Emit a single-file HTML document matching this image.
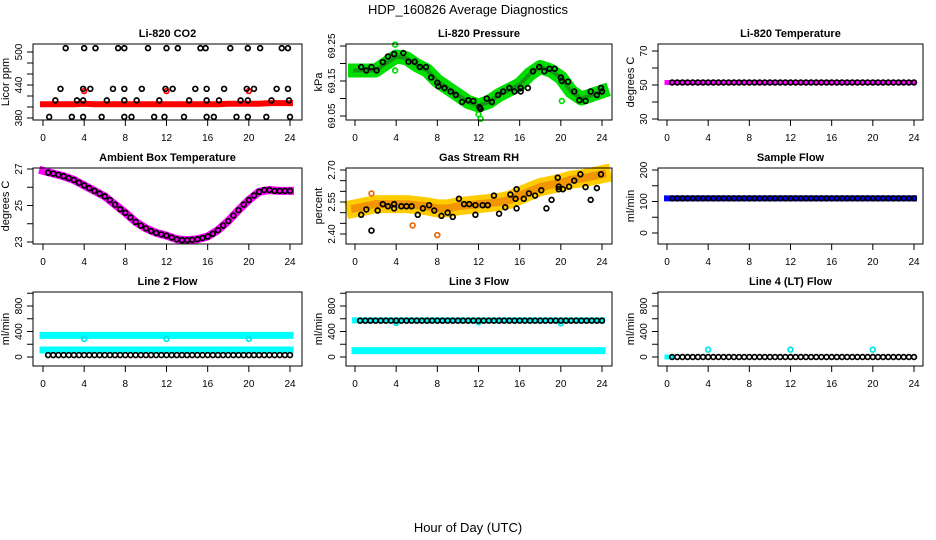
<!DOCTYPE html>
<html><head><meta charset="utf-8"><style>
html,body{margin:0;padding:0;background:#fff;}
svg{display:block;font-family:"Liberation Sans",sans-serif;}
</style></head><body>
<svg id="chart" width="936" height="540" viewBox="0 0 936 540" xmlns="http://www.w3.org/2000/svg">
<text x="468" y="14" text-anchor="middle" font-size="13">HDP_160826  Average Diagnostics</text>
<text x="468" y="532" text-anchor="middle" font-size="13">Hour of Day (UTC)</text>
</svg>
<script>
const HOURS = [0,1,2,3,4,5,6,7,8,9,10,11,12,13,14,15,16,17,18,19,20,21,22,23,24];
const HALF = [0.5,1,1.5,2,2.5,3,3.5,4,4.5,5,5.5,6,6.5,7,7.5,8,8.5,9,9.5,10,10.5,11,11.5,12,12.5,13,13.5,14,14.5,15,15.5,16,16.5,17,17.5,18,18.5,19,19.5,20,20.5,21,21.5,22,22.5,23,23.5,24];
const X_TICKS = [0,4,8,12,16,20,24];

// CO2
const co2Band = [405,405,405,405,406,405,405,405,405,405,405,405,405,405,405,405,405,405,406,406,406,406,407,407,407];
const co2Hours = [2.2,4.0,5.1,7.3,7.9,10.2,12.0,13.1,15.3,15.8,18.2,19.9,21.1,23.2,23.8, 1.7,3.9,4.6,6.8,7.9,9.6,11.9,12.6,14.8,15.9,17.6,19.8,20.5,22.7,23.8, 1.2,3.3,3.9,6.2,7.9,9.1,11.3,14.2,15.9,17.1,19.2,19.9,22.2,23.9, 0.6,2.8,3.9,5.7,7.9,8.6,10.8,11.8,13.7,15.9,16.6,18.8,19.9,21.7,24.0];
const co2Vals = [507,507,507,507,507,507,507,507,507,507,507,507,507,507,507, 433,433,433,433,433,433,433,433,433,433,433,433,433,433,433, 412,412,412,412,412,412,412,412,412,412,412,412,412,412, 382,382,382,382,382,382,382,382,382,382,382,382,382,382,382];
const co2RedHours = [4,12,20];
const co2RedVals = [429,429,429];

// Pressure
const presBand = [69.18,69.18,69.18,69.20,69.22,69.215,69.195,69.18,69.15,69.13,69.11,69.09,69.08,69.09,69.11,69.125,69.14,69.17,69.19,69.18,69.16,69.12,69.10,69.11,69.12];
const presHours = [0.6,1.1,1.6,2.1,2.7,3.2,3.8,4.7,5.2,5.8,6.3,6.9,7.4,8.0,8.1,8.7,9.3,9.8,10.4,11.0,11.5,12.1,12.2,12.8,13.3,13.9,14.4,15.0,15.5,16.1,16.1,16.8,17.3,17.9,18.4,18.9,19.4,20.0,20.1,20.7,21.3,21.8,22.4,22.9,23.5,24.0,23.9];
const presVals = [69.19,69.18,69.19,69.18,69.204,69.22,69.227,69.23,69.205,69.205,69.19,69.19,69.16,69.145,69.135,69.13,69.12,69.11,69.09,69.095,69.093,69.075,69.07,69.10,69.09,69.11,69.12,69.13,69.12,69.12,69.13,69.13,69.178,69.19,69.178,69.185,69.185,69.16,69.15,69.148,69.12,69.095,69.093,69.12,69.11,69.12,69.13];
const presOutHours = [3.9,3.9,20.1,12.2,12.0];
const presOutVals = [69.254,69.18,69.093,69.042,69.055];

// Li-820 Temperature
const tempBand = [51.5,51.5,51.5,51.5,51.5,51.5,51.5,51.5,51.5,51.5,51.5,51.5,51.5,51.5,51.5,51.5,51.5,51.5,51.5,51.5,51.5,51.5,51.5,51.5,51.5];
const tempVals = [51.5,51.5,51.5,51.5,51.5,51.5,51.5,51.5,51.5,51.5,51.5,51.5,51.5,51.5,51.5,51.5,51.5,51.5,51.5,51.5,51.5,51.5,51.5,51.5,51.5,51.5,51.5,51.5,51.5,51.5,51.5,51.5,51.5,51.5,51.5,51.5,51.5,51.5,51.5,51.5,51.5,51.5,51.5,51.5,51.5,51.5,51.5,51.5];

// Ambient box temperature
const ambBand = [26.9,26.75,26.6,26.4,26.1,25.8,25.5,25.05,24.6,24.1,23.75,23.5,23.35,23.15,23.1,23.15,23.3,23.65,24.15,24.75,25.3,25.75,25.85,25.8,25.8];
const ambVals = [26.8,26.75,26.68,26.6,26.5,26.4,26.25,26.1,25.95,25.8,25.65,25.5,25.3,25.05,24.8,24.6,24.35,24.1,23.9,23.75,23.6,23.5,23.42,23.35,23.25,23.15,23.1,23.1,23.12,23.15,23.22,23.3,23.45,23.65,23.9,24.15,24.45,24.75,25.05,25.3,25.55,25.75,25.85,25.85,25.8,25.8,25.8,25.8];

// Gas stream RH
const rhBand = [2.52,2.53,2.54,2.54,2.54,2.54,2.535,2.53,2.52,2.52,2.53,2.535,2.54,2.545,2.55,2.56,2.58,2.60,2.62,2.63,2.64,2.655,2.66,2.67,2.68];
const rhHours = [0.6,1.1,1.6,2.2,2.7,3.2,3.8,3.8,4.5,5.0,5.5,6.1,6.6,7.2,7.7,8.4,9.0,9.5,10.1,10.6,11.1,11.7,11.7,12.4,12.9,13.5,14.0,14.6,15.1,15.6,15.7,15.7,16.4,16.9,17.5,18.1,18.6,19.1,19.7,19.8,19.8,20.2,20.8,21.3,21.9,22.4,22.9,23.5,23.9];
const rhVals = [2.49,2.515,2.416,2.51,2.54,2.53,2.54,2.52,2.53,2.53,2.53,2.49,2.52,2.535,2.51,2.485,2.50,2.48,2.565,2.54,2.54,2.535,2.49,2.535,2.535,2.58,2.495,2.525,2.585,2.565,2.61,2.52,2.565,2.59,2.58,2.605,2.52,2.56,2.664,2.622,2.61,2.61,2.622,2.65,2.68,2.62,2.56,2.615,2.68];
const rhOutHours = [8.0,1.6,5.6];
const rhOutVals = [2.395,2.59,2.44];

// Sample flow
const sfBand = [110,110,110,110,110,110,110,110,110,110,110,110,110,110,110,110,110,110,110,110,110,110,110,110,110];
const sfVals = [110,110,110,110,110,110,110,110,110,110,110,110,110,110,110,110,110,110,110,110,110,110,110,110,110,110,110,110,110,110,110,110,110,110,110,110,110,110,110,110,110,110,110,110,110,110,110,110];

// Line 2 flow
const l2BandHigh = [340,340,340,340,340,340,340,340,340,340,340,340,340,340,340,340,340,340,340,340,340,340,340,340,340];
const l2BandLow = [110,110,110,110,110,110,110,110,110,110,110,110,110,110,110,110,110,110,110,110,110,110,110,110,110];
const l2Vals = [30,30,30,30,30,30,30,30,30,30,30,30,30,30,30,30,30,30,30,30,30,30,30,30,30,30,30,30,30,30,30,30,30,30,30,30,30,30,30,30,30,30,30,30,30,30,30,30];
const l2OutHours = [4,12,20];
const l2OutVals = [285,285,285];

// Line 3 flow
const l3BandHigh = [575,575,575,575,575,575,575,575,575,575,575,575,575,575,575,575,575,575,575,575,575,575,575,575,575];
const l3BandLow = [100,100,100,100,100,100,100,100,100,100,100,100,100,100,100,100,100,100,100,100,100,100,100,100,100];
const l3Vals = [570,570,570,570,570,570,570,570,570,570,570,570,570,570,570,570,570,570,570,570,570,570,570,570,570,570,570,570,570,570,570,570,570,570,570,570,570,570,570,570,570,570,570,570,570,570,570,570];
const l3OutHours = [4,12,20];
const l3OutVals = [535,545,530];

// Line 4 flow
const l4Vals = [0,0,0,0,0,0,0,0,0,0,0,0,0,0,0,0,0,0,0,0,0,0,0,0,0,0,0,0,0,0,0,0,0,0,0,0,0,0,0,0,0,0,0,0,0,0,0,0];
const l4BandHours = [0,0.5];
const l4BandVals = [0,0];
const l4OutHours = [4,12,20];
const l4OutVals = [115,115,115];

const NS = 'http://www.w3.org/2000/svg';
const svg = document.getElementById('chart');
function mk(tag, attrs, parent) {
  const e = document.createElementNS(NS, tag);
  for (const k in attrs) e.setAttribute(k, attrs[k]);
  (parent || svg).appendChild(e);
  return e;
}
const COLS = [{l:33,r:302,x0:43,x24:290},{l:346,r:612,x0:355,x24:602},{l:658,r:923,x0:667,x24:914}];
const ROWS = [{t:44,b:120},{t:168,b:244},{t:292,b:366}];

function panel(ci, ri, name, title, ylab, yref, yTicks, yLabels) {
  const c = COLS[ci], r = ROWS[ri];
  const g = mk('g', {});
  
  
  const xs = h => c.x0 + (c.x24 - c.x0) * h / 24;
  const ys = v => yref[1] + (v - yref[0]) * (yref[3] - yref[1]) / (yref[2] - yref[0]);
  const t = mk('text', {x:(c.l + c.r) / 2, y:r.t - 7, 'text-anchor':'middle', 'font-size':11, 'font-weight':'bold'}, g);
  t.textContent = title;
  
  
  const plot = mk('g', {}, g);
  
  
  const box = mk('rect', {x:c.l, y:r.t, width:c.r - c.l, height:r.b - r.t, fill:'none', stroke:'#000', 'stroke-width':1}, g);
  
  
  const xa = mk('g', {}, g);
  
  
  mk('line', {x1:xs(0), x2:xs(24), y1:r.b, y2:r.b, stroke:'#000'}, xa);
  X_TICKS.forEach(h => {
    mk('line', {x1:xs(h), x2:xs(h), y1:r.b, y2:r.b + 6, stroke:'#000'}, xa);
    const tl = mk('text', {x:xs(h), y:r.b + 21, 'text-anchor':'middle', 'font-size':10}, xa);
    tl.textContent = h;
    
    
  });
  const ya = mk('g', {}, g);
  
  
  mk('line', {x1:c.l, x2:c.l, y1:ys(yTicks[0]), y2:ys(yTicks[yTicks.length - 1]), stroke:'#000'}, ya);
  yTicks.forEach(v => mk('line', {x1:c.l - 6, x2:c.l, y1:ys(v), y2:ys(v), stroke:'#000'}, ya));
  yLabels.forEach(lab => {
    const yy = ys(parseFloat(lab));
    const tl = mk('text', {x:c.l - 11, y:yy, 'text-anchor':'middle', 'font-size':10, transform:`rotate(-90 ${c.l - 11} ${yy})`}, ya);
    tl.textContent = lab;
    
    
  });
  const ym = (r.t + r.b) / 2;
  const yt = mk('text', {x:c.l - 24, y:ym, 'text-anchor':'middle', 'font-size':11, transform:`rotate(-90 ${c.l - 24} ${ym})`}, g);
  yt.textContent = ylab;
  
  
  return {xs, ys, plot};
}
function band(p, hours, vals, color, w, name, op) {
  const pts = hours.map((h, i) => p.xs(h) + ',' + p.ys(vals[i])).join(' ');
  const e = mk('polyline', {points:pts, fill:'none', stroke:color, 'stroke-width':w, 'stroke-linejoin':'round', 'stroke-linecap':'square', 'stroke-opacity':op || 1}, p.plot);
  
  
}
function pts(p, hours, vals, color, name, rad) {
  hours.forEach((h, i) => {
    const e = mk('circle', {cx:p.xs(h), cy:p.ys(vals[i]), r:rad || 2.4, fill:'none', stroke:color, 'stroke-width':1.7}, p.plot);
    
    
  });
}
const FLOW_T = [0,200,400,600,800,1000], FLOW_L = ['0','400','800'];

let p = panel(0, 0, 'co2', 'Li-820 CO2', 'Licor ppm', [380,118,500,52], [380,400,420,440,460,480,500], ['380','440','500']);
band(p, HOURS, co2Band, '#ff0000', 6, 'co2-band');
pts(p, co2RedHours, co2RedVals, '#ff0000', 'co2-red-point');
pts(p, co2Hours, co2Vals, '#000', 'co2-point');

p = panel(1, 0, 'pressure', 'Li-820 Pressure', 'kPa', [69.05,116,69.25,46], [69.05,69.10,69.15,69.20,69.25], ['69.05','69.15','69.25']);
band(p, HOURS, presBand, '#00dd00', 14, 'pressure-band');
band(p, HOURS, presBand, '#119911', 4, 'pressure-band-core');
pts(p, presOutHours, presOutVals, '#00dd00', 'pressure-outlier');
pts(p, presHours, presVals, '#000', 'pressure-point');

p = panel(2, 0, 'li820-temperature', 'Li-820 Temperature', 'degrees C', [30,119,70,51], [30,40,50,60,70], ['30','50','70']);
band(p, HOURS, tempBand, '#ff00ff', 5, 'temperature-band');
pts(p, HALF, tempVals, '#000', 'temperature-point');

p = panel(0, 1, 'ambient', 'Ambient Box Temperature', 'degrees C', [23,242,27,169], [23,24,25,26,27], ['23','25','27']);
band(p, HOURS, ambBand, '#ff00ff', 8, 'ambient-band');
pts(p, HALF, ambVals, '#000', 'ambient-point');

p = panel(1, 1, 'rh', 'Gas Stream RH', 'percent', [2.40,234,2.70,170], [2.40,2.45,2.50,2.55,2.60,2.65,2.70], ['2.40','2.55','2.70']);
band(p, HOURS, rhBand, '#ffcc00', 18, 'rh-band');
band(p, HOURS, rhBand, '#ee8800', 8, 'rh-band-core', 0.8);
pts(p, rhOutHours, rhOutVals, '#ee6600', 'rh-outlier');
pts(p, rhHours, rhVals, '#000', 'rh-point');

p = panel(2, 1, 'sample-flow', 'Sample Flow', 'ml/min', [0,233,200,170], [0,50,100,150,200], ['0','100','200']);
band(p, HOURS, sfBand, '#0000ff', 6, 'sample-flow-band');
pts(p, HALF, sfVals, '#000', 'sample-flow-point');

p = panel(0, 2, 'line2', 'Line 2 Flow', 'ml/min', [0,357,800,306], FLOW_T, FLOW_L);
band(p, HOURS, l2BandHigh, '#00ffff', 7, 'line2-band-high');
band(p, HOURS, l2BandLow, '#00ffff', 7, 'line2-band-low');
pts(p, l2OutHours, l2OutVals, '#00e5e5', 'line2-outlier');
pts(p, HALF, l2Vals, '#000', 'line2-point');

p = panel(1, 2, 'line3', 'Line 3 Flow', 'ml/min', [0,357,800,306], FLOW_T, FLOW_L);
band(p, HOURS, l3BandHigh, '#00ffff', 6, 'line3-band-high');
band(p, HOURS, l3BandLow, '#00ffff', 7, 'line3-band-low');
pts(p, l3OutHours, l3OutVals, '#00e5e5', 'line3-outlier');
pts(p, HALF, l3Vals, '#000', 'line3-point');

p = panel(2, 2, 'line4', 'Line 4 (LT) Flow', 'ml/min', [0,357,800,306], FLOW_T, FLOW_L);
band(p, l4BandHours, l4BandVals, '#00ffff', 5, 'line4-band');
pts(p, HALF, l4Vals, '#000', 'line4-point');
pts(p, l4OutHours, l4OutVals, '#00e5e5', 'line4-outlier');
</script>
</body></html>
